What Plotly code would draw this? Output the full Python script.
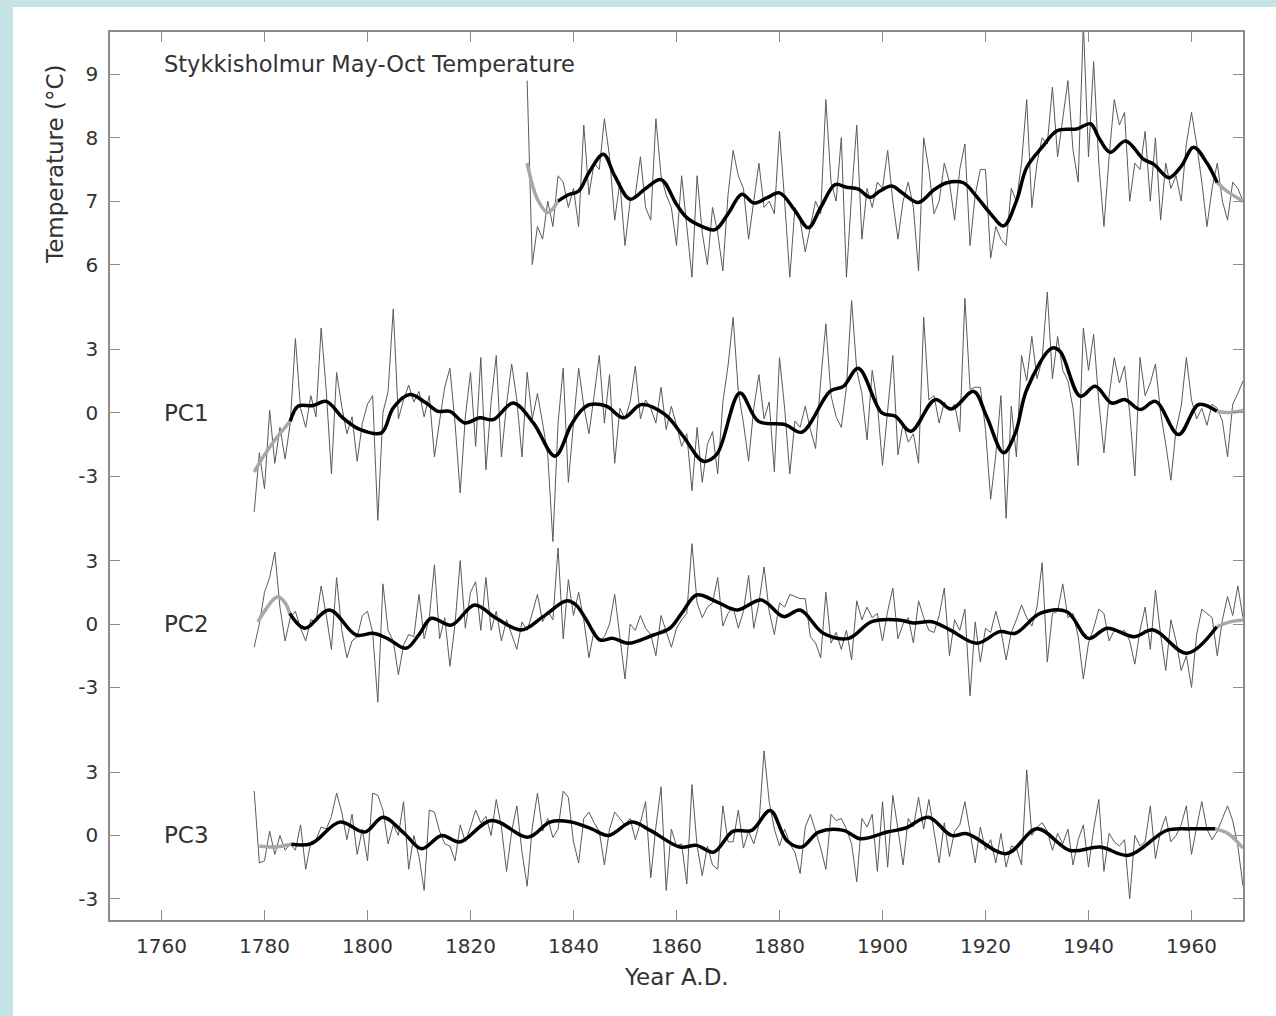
import plotly.graph_objects as go

# ---------------- data ----------------
x_tick_vals = [1760, 1780, 1800, 1820, 1840, 1860, 1880, 1900, 1920, 1940, 1960]
pc_tick_vals = [-3, 0, 3]
pc_tick_text = ["-3", "0", "3"]
temp_tick_vals = [6, 7, 8, 9]
temp_tick_text = ["6", "7", "8", "9"]

temp_start = 1831
temp_values = [
    8.9, 6.0, 6.6, 6.4, 7.0, 6.6, 7.4, 7.3, 6.9, 7.2,
    6.6, 8.2, 7.1, 7.6, 7.5, 8.3, 7.7, 6.7, 7.3, 6.3,
    7.0, 7.1, 7.7, 6.9, 6.7, 8.3, 7.4, 7.1, 6.9, 6.3,
    7.4, 6.6, 5.8, 7.4, 6.5, 6.0, 6.9, 6.5, 5.9, 7.1,
    7.8, 7.4, 7.2, 6.4, 7.0, 7.6, 6.9, 7.0, 6.8, 8.1,
    7.0, 5.8, 6.9, 6.7, 6.2, 6.6, 7.0, 6.8, 8.6, 7.3,
    7.0, 8.0, 5.8, 7.1, 8.2, 6.4, 7.2, 6.9, 7.3, 7.2,
    7.8, 7.0, 6.4, 7.0, 7.3, 6.9, 5.9, 8.0, 7.5, 6.8,
    7.0, 7.6, 7.3, 6.7, 7.5, 7.9, 6.3, 7.1, 7.5, 7.5,
    6.1, 6.6, 6.4, 6.3, 7.2, 7.0, 7.6, 8.6, 6.9, 7.6,
    8.0, 7.9, 8.8, 7.7, 8.3, 8.9, 7.8, 7.3, 9.8, 7.7,
    9.2, 7.6, 6.6, 7.7, 8.6, 8.2, 8.4, 7.0, 7.6, 7.5,
    8.1, 7.0, 8.0, 6.7, 7.6, 7.2, 7.4, 7.0, 7.9, 8.4,
    7.9, 7.3, 6.6, 7.2, 7.6, 7.0, 6.7, 7.3, 7.2, 7.0,
]

pc_start = 1778
pc1_values = [
    -4.7, -1.9,
    -3.6, 0.1, -2.4, -0.7, -2.2, -0.5, 3.5, 0.2, -0.7, 0.8,
    -0.2, 4.0, 1.0, -2.9, 1.9, 0.3, -1.0, -0.2, -2.3, -0.5,
    0.4, 0.8, -5.1, 0.0, 1.0, 4.9, -0.3, 0.6, 1.3, 0.5,
    1.0, -0.2, 0.8, -2.1, -0.4, 1.2, 2.1, -0.5, -3.8, -0.2,
    1.9, -1.6, 2.6, -2.7, 0.5, 2.7, -2.1, 0.4, 2.3, 0.6,
    -2.1, 1.9, -0.3, 0.9, -0.5, -2.0, -6.1, -0.5, 2.1, -3.3,
    -0.5, 2.1, 0.3, -1.0, 0.8, 2.7, -0.5, 1.8, -2.4, 0.2,
    -0.3, 0.5, 2.2, -0.3, 0.6, 0.2, -0.5, 1.2, -0.8, 0.3,
    -0.6, -1.6, -1.0, -3.7, -0.7, -3.3, -1.5, -0.9, -2.9, 0.5,
    2.2, 4.5, 1.0, -0.5, -2.3, 0.2, 1.8, -0.3, 0.5, -2.8,
    2.6, 0.2, -2.9, -0.4, -0.7, 0.3, -0.8, -1.7, 1.5, 4.2,
    0.8, -0.2, -0.7, 1.2, 5.3, 2.0, 0.9, -1.3, 2.0, 0.4,
    -2.5, 0.0, 2.7, -2.0, -0.5, -1.4, -1.0, -2.4, 4.5, 0.6,
    0.8, -0.5, 0.5, 0.1, 0.4, -0.9, 5.4, 1.1, 1.2, 1.2,
    -0.8, -4.1, -2.0, 0.8, -5.0, 0.3, -2.1, 2.7, 1.5, 3.6,
    1.6, 2.5, 5.7, 1.6, 3.6, 2.0, 1.5, 0.2, -2.5, 4.0,
    2.0, 3.7, 0.5, -1.9, 0.8, 2.6, 1.4, 2.2, 0.0, -3.0,
    2.6, 0.8, 1.4, 2.3, 0.0, -1.5, -3.2, -0.8, 0.3, 2.6,
    0.6, -0.3, 0.2, -0.6, 0.4, 0.2, -0.4, -2.1, 0.4, 0.9,
    1.5,
]
pc2_values = [
    -1.1, 0.0,
    1.5, 2.2, 3.4, 0.8, -0.8, 0.3, 0.6, -0.2, -0.8, 0.2,
    0.1, 1.8, 0.4, -1.2, 2.2, -0.3, -1.6, -0.8, -0.6, 0.4,
    0.6, -0.4, -3.7, 1.9, -0.3, -0.8, -2.4, -1.0, -0.5, -0.6,
    1.4, -0.7, 0.3, 2.8, -0.7, 0.3, -2.0, 0.0, 3.0, -0.2,
    1.5, 2.0, -0.3, 2.2, -0.3, 0.6, -0.8, 0.2, -0.5, -1.2,
    0.1, -0.3, 0.5, 1.4, 0.1, 0.6, 0.2, 3.6, -0.7, 2.1,
    0.4, 1.5, 0.2, -1.6, -0.3, -0.8, -0.6, 0.0, 1.4, -0.5,
    -2.6, 0.0, -0.3, 0.4, -0.2, -0.5, -1.5, 0.4, -0.3, -1.1,
    -0.2, 0.2, 0.5, 3.8, 1.0, 0.3, 0.8, 1.0, 2.2, -0.1,
    0.5, 0.8, -0.2, 0.6, 2.3, -0.2, 1.0, 2.7, 0.6, -0.5,
    1.0, 0.8, 1.4, 1.3, 1.2, 1.2, -0.6, -0.9, -1.6, 1.5,
    -0.9, -0.4, -1.2, -0.3, -1.7, 1.1, 0.2, 0.8, 0.3, 0.5,
    -0.8, 0.6, 1.7, -0.7, 0.0, 0.3, -0.9, 1.1, 0.3, -0.3,
    -0.4, 0.4, 1.7, -1.5, 0.2, -0.3, 0.7, -3.4, 0.1, -1.8,
    -0.2, -0.4, 0.6, -0.3, -1.7, -0.4, 0.2, 0.9, 0.3, -0.1,
    0.8, 2.9, -1.8, 0.5, 0.6, 1.9, 0.3, 0.5, -0.6, -2.6,
    -0.9, -0.2, 0.7, 0.5, -0.8, -0.3, -0.4, -0.3, -0.8, -1.9,
    -0.3, 0.8, -1.2, 1.6, -0.5, -2.2, 0.2, -0.8, -2.2, -1.5,
    -3.0, -0.5, 0.7, 0.5, 0.3, -1.5, 0.2, 1.3, 0.4, 1.8,
    0.3,
]
pc3_values = [
    2.1, -1.3,
    -1.2, 0.2, -0.9, 0.0, -0.7, -0.4, -0.7, 0.5, -1.6, -0.3,
    -0.2, 0.4, 0.3, 0.9, 2.0, 1.1, -0.2, 1.0, -0.9, 0.3,
    -1.2, 2.0, 1.9, 1.2, -0.4, 0.5, 0.0, 1.6, -1.6, 0.0,
    -1.0, -2.6, 1.2, 1.1, 0.2, -0.4, -0.5, -1.2, 0.5, -0.3,
    0.4, 1.2, 0.6, 0.9, 0.0, 1.7, 0.4, -1.7, 0.2, 1.4,
    -0.8, -2.4, 0.4, 2.0, 0.2, 0.8, -0.1, 0.3, 2.1, 1.8,
    -0.3, -1.3, 0.8, 1.1, 0.6, 0.2, -1.4, 0.3, 1.1, 0.8,
    0.5, 0.8, -0.2, 0.6, 1.6, -2.0, 0.4, 2.3, -2.6, 0.3,
    -0.5, -0.4, -2.3, 2.4, -0.5, -1.9, -0.5, -1.4, -1.6, 1.4,
    -0.3, -0.3, 1.2, -0.6, 0.2, -0.4, 0.5, 4.0, 1.6, 0.3,
    -0.5, 0.3, -0.4, -0.8, -1.8, 0.4, 1.0, 0.2, -0.6, -1.6,
    1.0, 0.7, 0.8, 0.3, -0.4, -2.2, 0.8, 0.4, 1.0, -1.7,
    1.6, -1.5, 1.9, 0.3, -1.4, 0.8, 0.4, 1.8, 0.3, 1.7,
    0.2, -1.3, 0.6, -1.0, 0.2, 0.5, 1.6, 0.2, -1.3, 0.4,
    -0.7, -0.2, -1.3, 0.1, -1.5, -0.5, -0.6, -1.4, 3.1, 0.0,
    0.4, 0.6, 0.2, -0.7, 0.1, -0.4, 0.3, -1.4, -0.2, 0.5,
    -1.5, 0.3, 1.7, -1.7, 0.1, -0.3, -0.5, -0.2, -3.0, 0.0,
    -0.5, -0.3, 1.4, -1.1, 0.2, 0.9, -0.3, 0.0, 0.5, 1.4,
    -0.9, 0.4, 1.6, 0.3, -0.2, 0.2, 0.8, 1.4, 0.7, -0.5,
    -2.4,
]

# smoothed curves: grey (end-effect) start, black middle, grey end
temp_grey_a_x = [1831, 1833, 1835, 1837]
temp_grey_a_y = [7.6, 7.03, 6.82, 7.0]
temp_smooth_x = [1837, 1839, 1841, 1843, 1845.8, 1848, 1851, 1854, 1857, 1860, 1862, 1865,
                 1867.5, 1870, 1872.7, 1875, 1877.5, 1880, 1883, 1885.6, 1888, 1890.8, 1893,
                 1895.3, 1897.6, 1899.5, 1901.8, 1904, 1907, 1910, 1912.5, 1915.7, 1918, 1921,
                 1923.5, 1926, 1928, 1931, 1933.9, 1937.8, 1940.4, 1942, 1944.2, 1947.2, 1950.7,
                 1952.7, 1955.6, 1958, 1960.4, 1963, 1965]
temp_smooth_y = [7.0, 7.1, 7.16, 7.45, 7.74, 7.4, 7.03, 7.2, 7.34, 6.95, 6.74, 6.6,
                 6.55, 6.8, 7.11, 6.97, 7.05, 7.13, 6.85, 6.58, 6.9, 7.26, 7.22,
                 7.19, 7.06, 7.16, 7.24, 7.12, 6.98, 7.18, 7.29, 7.29, 7.1, 6.8,
                 6.61, 7.0, 7.53, 7.85, 8.11, 8.14, 8.22, 8.0, 7.77, 7.95, 7.66,
                 7.58, 7.37, 7.55, 7.85, 7.6, 7.29]
temp_grey_b_x = [1965, 1967, 1970]
temp_grey_b_y = [7.29, 7.15, 7.0]

pc1_grey_a_x = [1778, 1780, 1782, 1784, 1785]
pc1_grey_a_y = [-2.8, -2.0, -1.3, -0.7, -0.41]
pc1_smooth_x = [1785, 1786.5, 1789.4, 1792, 1795.2, 1798.5, 1802.7, 1805, 1808.2, 1811.4,
                1813.7, 1816, 1818.9, 1821.8, 1824.4, 1828.3, 1832.2, 1836.4, 1839.5, 1841.5,
                1843.2, 1846.4, 1849.7, 1853.2, 1857.8, 1861.3, 1865.2, 1867.8, 1872.3, 1875.9,
                1881.1, 1884.3, 1889.8, 1892.4, 1895.3, 1899.9, 1902.5, 1905.5, 1910.2, 1913.4,
                1917.7, 1920.2, 1923.5, 1925.8, 1928, 1932.9, 1934.5, 1938.4, 1941.3, 1944.5,
                1947.1, 1950, 1953, 1957.5, 1961.4, 1964.9]
pc1_smooth_y = [-0.41, 0.3, 0.33, 0.53, -0.25, -0.8, -0.96, 0.22, 0.85, 0.45,
                0.06, 0.06, -0.49, -0.25, -0.33, 0.45, -0.49, -2.06, -0.6, 0.1,
                0.38, 0.3, -0.25, 0.38, -0.1, -1.12, -2.3, -1.98, 0.93, -0.41,
                -0.57, -0.93, 1.0, 1.24, 2.1, -0.02, -0.17, -0.88, 0.61, 0.17,
                1.0, -0.17, -1.9, -0.96, 1.08, 3.05, 2.89, 0.77, 1.24, 0.45,
                0.61, 0.14, 0.53, -1.04, 0.38, 0.06]
pc1_grey_b_x = [1964.9, 1967, 1970]
pc1_grey_b_y = [0.06, 0.0, 0.1]

pc2_grey_a_x = [1778.7, 1780, 1781.5, 1782.6, 1784, 1784.9]
pc2_grey_a_y = [0.1, 0.6, 1.1, 1.29, 1.0, 0.5]
pc2_smooth_x = [1784.9, 1787.8, 1792.6, 1797.8, 1801.1, 1804, 1807.5, 1810, 1812.4, 1816.3,
                1820.8, 1825, 1829.9, 1834.1, 1838.7, 1840.5, 1842.5, 1845.1, 1847.7, 1850.6,
                1855.5, 1858.7, 1861, 1863.9, 1867.8, 1871.7, 1876.5, 1880.8, 1884, 1888.5,
                1893.4, 1897.9, 1903.2, 1906, 1909.6, 1913.1, 1918.3, 1922.8, 1925.8, 1930.6,
                1935.8, 1940, 1943.6, 1948.8, 1952.6, 1959.1, 1964.9]
pc2_smooth_y = [0.5, -0.2, 0.66, -0.52, -0.44, -0.7, -1.15, -0.5, 0.27, -0.05,
                0.9, 0.27, -0.28, 0.35, 1.1, 0.9, 0.19, -0.75, -0.68, -0.91,
                -0.52, -0.2, 0.5, 1.37, 1.05, 0.66, 1.13, 0.35, 0.66, -0.44,
                -0.68, 0.11, 0.19, 0.05, 0.11, -0.28, -0.91, -0.36, -0.44, 0.5,
                0.58, -0.68, -0.2, -0.6, -0.28, -1.38, -0.13]
pc2_grey_b_x = [1964.9, 1967.5, 1970]
pc2_grey_b_y = [-0.13, 0.1, 0.19]

pc3_grey_a_x = [1779, 1782, 1785.2]
pc3_grey_a_y = [-0.5, -0.55, -0.42]
pc3_smooth_x = [1785.2, 1789.1, 1794.6, 1799.5, 1803, 1807.2, 1810.5, 1814.4, 1817.9, 1824.1,
                1831.2, 1835.4, 1839.3, 1843.5, 1846.8, 1851.3, 1854.9, 1860.7, 1863.9, 1867.2,
                1871, 1874.6, 1878.2, 1881.4, 1884.3, 1887.6, 1892.4, 1895.7, 1900.9, 1904.5,
                1908.9, 1913.4, 1916.4, 1924.1, 1930, 1936.4, 1942.3, 1947.8, 1955.2, 1959.8,
                1964.6]
pc3_smooth_y = [-0.42, -0.39, 0.63, 0.16, 0.86, 0.08, -0.63, 0.0, -0.31, 0.71,
                -0.08, 0.63, 0.65, 0.31, 0.0, 0.63, 0.24, -0.55, -0.47, -0.79,
                0.2, 0.24, 1.18, -0.24, -0.55, 0.16, 0.24, -0.16, 0.16, 0.35,
                0.86, 0.0, 0.08, -0.86, 0.31, -0.71, -0.55, -0.94, 0.24, 0.31,
                0.31]
pc3_grey_b_x = [1964.6, 1967, 1970]
pc3_grey_b_y = [0.31, 0.1, -0.6]

# ---------------- figure ----------------
THIN = "#5a5a5a"
BLACK = "#000000"
GREY = "#a8a8a8"
FONT = "DejaVu Sans, Verdana, sans-serif"
TXT = "#333333"

fig = go.Figure()


def add_line(xs, ys, axis, color, width, shape="linear"):
    fig.add_trace(go.Scatter(
        x=xs, y=ys, yaxis=axis, mode="lines",
        line=dict(color=color, width=width, shape=shape, smoothing=1.0 if shape == "spline" else None),
        hoverinfo="skip", showlegend=False))


temp_years = list(range(temp_start, temp_start + len(temp_values)))
pc_years = list(range(pc_start, pc_start + len(pc1_values)))

add_line(temp_years, temp_values, "y4", THIN, 1)
add_line(pc_years, pc1_values, "y3", THIN, 1)
add_line(pc_years, pc2_values, "y2", THIN, 1)
add_line(pc_years, pc3_values, "y", THIN, 1)

for gx, gy, sx, sy, hx, hy, ax in [
    (temp_grey_a_x, temp_grey_a_y, temp_smooth_x, temp_smooth_y, temp_grey_b_x, temp_grey_b_y, "y4"),
    (pc1_grey_a_x, pc1_grey_a_y, pc1_smooth_x, pc1_smooth_y, pc1_grey_b_x, pc1_grey_b_y, "y3"),
    (pc2_grey_a_x, pc2_grey_a_y, pc2_smooth_x, pc2_smooth_y, pc2_grey_b_x, pc2_grey_b_y, "y2"),
    (pc3_grey_a_x, pc3_grey_a_y, pc3_smooth_x, pc3_smooth_y, pc3_grey_b_x, pc3_grey_b_y, "y"),
]:
    add_line(gx, gy, ax, GREY, 3.5, "spline")
    add_line(hx, hy, ax, GREY, 3.5, "spline")
    add_line(sx, sy, ax, BLACK, 3.5, "spline")

axis_common = dict(
    showgrid=False, zeroline=False, showline=True, linecolor="#8c8c8c", linewidth=1.5,
    ticks="inside", ticklen=10, tickwidth=1.2, tickcolor="#8c8c8c", mirror="ticks",
    tickfont=dict(family=FONT, size=20, color=TXT),
)

fig.update_layout(
    width=1276, height=1016,
    margin=dict(l=110, r=33, t=32, b=96),
    paper_bgcolor="#c4e4e6",
    plot_bgcolor="white",
    xaxis=dict(range=[1750, 1970], tickvals=x_tick_vals, ticklabelstandoff=7, **axis_common),
    yaxis=dict(range=[-4, 38], tickvals=pc_tick_vals, ticktext=pc_tick_text,
               ticklabelstandoff=6, **axis_common),
    yaxis2=dict(range=[-14, 28], tickvals=pc_tick_vals, ticktext=pc_tick_text,
                overlaying="y", side="left", ticklabelstandoff=6, **axis_common),
    yaxis3=dict(range=[-24, 18], tickvals=pc_tick_vals, ticktext=pc_tick_text,
                overlaying="y", side="left", ticklabelstandoff=6, **axis_common),
    yaxis4=dict(range=[-13 / 3, 29 / 3], tickvals=temp_tick_vals, ticktext=temp_tick_text,
                overlaying="y", side="left", ticklabelstandoff=6, **axis_common),
    shapes=[dict(type="rect", xref="paper", yref="paper",
                 x0=(13 - 110) / 1133, x1=(1290 - 110) / 1133,
                 y0=(920 - 1030) / 888, y1=(920 - 7) / 888,
                 fillcolor="white", line=dict(width=0), layer="below")],
    annotations=[
        dict(text="Stykkisholmur May-Oct Temperature", x=1760, xref="x", y=9.16, yref="y4",
             xanchor="left", yanchor="middle", showarrow=False,
             font=dict(family=FONT, size=22.5, color=TXT)),
        dict(text="PC1", x=1760, xref="x", y=0, yref="y3", xanchor="left", yanchor="middle",
             showarrow=False, font=dict(family=FONT, size=23, color=TXT)),
        dict(text="PC2", x=1760, xref="x", y=0, yref="y2", xanchor="left", yanchor="middle",
             showarrow=False, font=dict(family=FONT, size=23, color=TXT)),
        dict(text="PC3", x=1760, xref="x", y=0, yref="y", xanchor="left", yanchor="middle",
             showarrow=False, font=dict(family=FONT, size=23, color=TXT)),
        dict(text="Temperature (°C)", x=(55 - 110) / 1133, xref="paper", y=(920 - 164) / 888,
             yref="paper", textangle=-90, xanchor="center", yanchor="middle", showarrow=False,
             font=dict(family=FONT, size=23, color=TXT)),
        dict(text="Year A.D.", x=(676 - 110) / 1133, xref="paper", y=(920 - 977) / 888,
             yref="paper", xanchor="center", yanchor="middle", showarrow=False,
             font=dict(family=FONT, size=23, color=TXT)),
    ],
)

fig.write_html("out.html")
